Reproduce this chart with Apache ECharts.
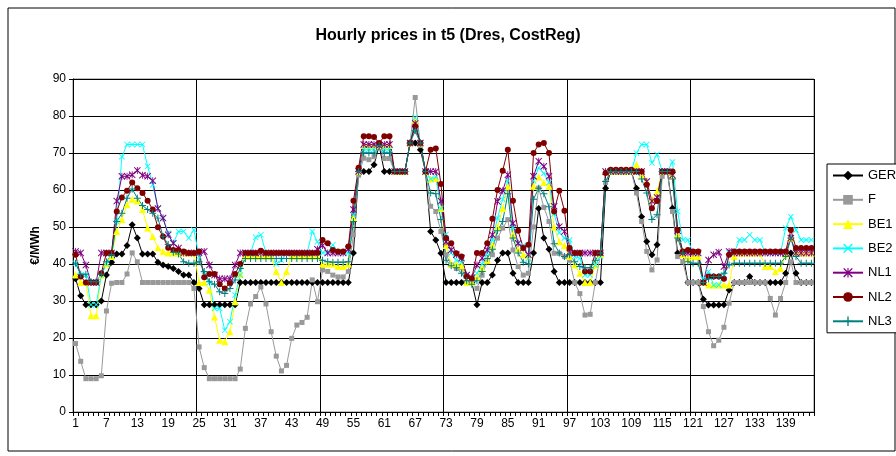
<!DOCTYPE html>
<html>
<head>
<meta charset="utf-8">
<title>Hourly prices in t5</title>
<script src="https://cdn.jsdelivr.net/npm/echarts@6/dist/echarts.min.js"></script>
<style>
  html, body { margin: 0; padding: 0; background: #fff; }
  #chart { width: 896px; height: 456px; }
</style>
</head>
<body>
<div id="chart"></div>
<script>
// hours 1..144 (6 days x 24 h)
var hours = [];
for (var h = 1; h <= 144; h++) hours.push(String(h));

var ger = [
  36, 31.4, 29, 29, 29, 30, 37, 40.5, 42.7, 42.7, 45, 50.6, 47, 42.7, 42.7, 42.7, 40.5, 39.7, 39.3, 38.8, 38, 37, 37, 35,
  33.4, 29, 29, 29, 29, 29, 29, 29, 35, 35, 35, 35, 35, 35, 35, 35, 35, 35, 35, 35, 35, 35, 35, 35,
  35, 35, 35, 35, 35, 35, 43, 65, 65, 65, 66.8, 72, 65, 65, 65, 65, 65, 72.7, 72.7, 70.9, 65, 48.8, 46.5, 42.9,
  35, 35, 35, 35, 35, 35, 29, 35, 35, 37, 41, 43, 43, 37.5, 35, 35, 35, 43, 55, 47, 44, 38, 35, 35,
  35, 35, 35, 35, 35, 35, 35, 60.5, 65, 65, 65, 65, 65, 60.5, 52.8, 46.1, 42.5, 45.2, 65, 65, 55.1, 43, 43, 35,
  35, 35, 30.5, 28.9, 28.9, 28.9, 29, 33, 35, 35, 35, 36.6, 35, 35, 35, 35, 35, 35, 37.5, 43, 37.5, 35, 35, 35
];
var fr = [
  18.5, 13.7, 9, 9, 9, 9.8, 27.3, 34.8, 35, 35, 37.3, 43, 40.6, 35, 35, 35, 35, 35, 35, 35, 35, 35, 35, 33.4,
  17.6, 12, 9, 9, 9, 9, 9, 9, 11.6, 22.6, 29.2, 31.2, 33.8, 29.2, 21.7, 15.1, 11.1, 12.6, 19.9, 23.5, 24.2, 25.6, 35.7, 29.8,
  38.4, 38, 37, 36.5, 36.5, 38, 47.9, 64, 68.6, 68.2, 69, 72, 68.5, 68.5, 65, 65, 65, 72.7, 85, 72, 65, 55.6, 54.2, 48.8,
  42.5, 39.7, 38.8, 39, 34.8, 34.8, 33.4, 37, 40.6, 42.5, 47, 49.7, 52, 43.8, 39.3, 37, 37.5, 50, 60.5, 55.3, 51.5, 42.9, 42.9, 42,
  41, 35, 32, 26.2, 26.4, 35, 42.5, 62, 65, 65, 65, 65, 65, 59.2, 51.5, 43.4, 38.4, 41.1, 63.7, 65, 54.2, 42, 40.6, 35,
  35, 35, 28.5, 21.7, 17.9, 19.4, 22.9, 29.4, 35, 35, 35, 35, 35, 35, 35, 30.7, 26.2, 30.7, 35, 40.6, 35, 35, 35, 35
];
var be1 = [
  37, 35, 35, 26, 26, 37, 40, 42, 48.8, 52, 56, 57.5, 57, 54.7, 49.7, 47.4, 44.4, 43.4, 43, 43, 43, 43, 43, 43,
  35, 35, 33, 25.7, 19.4, 19, 21.7, 29.8, 37.2, 42, 42, 42, 42, 42, 42, 38, 35, 38, 42, 42, 42, 42, 42, 42,
  40, 40, 40, 39.3, 39.3, 40, 52.4, 65, 72, 72, 72, 72, 72, 72, 65, 65, 65, 72.7, 79, 72.7, 65, 63, 63.2, 55,
  45, 40, 40, 39.5, 35, 35, 36.5, 39, 41, 45, 50, 55, 61, 48, 44, 42.5, 42.3, 61, 63.5, 62, 61, 50, 46, 45,
  42, 39.7, 37.5, 35, 35, 39.7, 42.5, 65, 65, 65, 65, 65, 65, 66.8, 64, 62.5, 57.4, 59.6, 65, 65, 64, 47.9, 42.5, 41.5,
  42, 42, 35, 34.3, 34.3, 34.3, 34.3, 34.3, 42, 43, 43, 43, 43, 43, 39.3, 39.3, 38, 38.8, 42.5, 47, 43, 43, 43, 43
];
var be2 = [
  40.2, 37, 37, 29, 29, 37, 40, 42.5, 51.5, 69, 72.3, 72.3, 72.3, 72.3, 66.4, 61.4, 55.1, 52.4, 48.3, 45.6, 48.8, 48.8, 47, 49.2,
  42, 37, 35, 28, 28, 22.1, 24.4, 31.6, 37, 43, 43, 47.2, 47.9, 43, 43, 40, 41, 43, 43, 43, 43, 43, 48.8, 46,
  43, 43, 45.2, 43, 43, 43, 53.3, 65, 71, 71, 71, 72, 71, 71, 65, 65, 65, 72.7, 79.5, 72.7, 65, 63, 63.5, 55,
  48, 43, 41, 40.5, 37, 36, 37.5, 40, 43, 46.5, 52.4, 57.5, 62.5, 50, 45.5, 45, 41.5, 62.5, 66, 64.5, 62, 53.5, 48.5, 47,
  46.5, 42, 41.5, 37, 37, 39.7, 42, 65, 65, 65, 65, 65, 65, 70, 72.3, 72.3, 67.3, 69.6, 65, 65, 67.6, 54.2, 46.5, 46.5,
  43, 43, 36, 38, 34.3, 34.3, 37, 43, 43, 46.5, 46.5, 47.9, 46.5, 46.5, 43, 43, 43, 43, 49.7, 52.8, 49.2, 46.5, 46.5, 46.5
];
var nl1 = [
  43.4, 43, 39.7, 35, 35, 43, 43, 43, 57, 63.7, 63.7, 64.1, 65.3, 64, 63.7, 62.5, 55, 52.4, 47.9, 45.6, 44.3, 43, 43, 43,
  43, 43.4, 39.7, 37, 36, 36, 36, 39.7, 43, 43, 43, 43, 43, 43, 43, 43, 43, 43, 43, 43, 43, 43, 43, 44,
  45, 43, 43, 43, 43, 44, 54.7, 65, 72.3, 72.3, 72.3, 72, 72.3, 72.3, 65, 65, 65, 72.7, 78, 72.7, 65, 65, 65, 57,
  46, 43.8, 42.5, 41.6, 37, 36.3, 39.7, 41.6, 43.8, 47.9, 56.9, 59.8, 64.1, 51, 45.6, 44.3, 42.5, 63.7, 67.8, 66.4, 63.7, 55.6, 50.1, 48.8,
  43, 43, 43, 43, 43, 43, 43, 65, 65, 65, 65, 65, 65, 65, 65, 62.3, 57, 58, 65, 65, 64, 49, 43, 43,
  43, 43, 35, 41.1, 42.5, 43.2, 39.3, 43.4, 43, 43, 43, 43, 43, 43, 43, 43, 43, 43, 43, 47, 43, 43, 43, 43
];
var nl2 = [
  42.5, 36.6, 35, 35, 35, 37.5, 43, 43, 54.2, 58, 59.8, 62, 60.5, 59.2, 57.1, 54.7, 49.9, 47.4, 44.4, 43.8, 43.8, 43.4, 43, 43,
  43.4, 36.4, 37.3, 37.3, 34.5, 33.4, 34.8, 37.3, 40, 43, 43, 43, 43.6, 43, 43, 43, 43, 43, 43, 43, 43, 43, 43, 43,
  46.5, 45.6, 43.8, 43.4, 43.4, 44.7, 57.1, 66, 74.5, 74.5, 74.3, 72.7, 74.5, 74.5, 65, 65, 65, 72.7, 77.2, 72.7, 65, 70.9, 71.2, 61.6,
  47, 45.6, 42.9, 42, 36.6, 36.1, 43, 43, 45.6, 52.2, 60, 65.2, 70.9, 57.1, 49, 44.3, 45.2, 70, 72.3, 72.7, 70, 54.2, 59.8, 54.4,
  44.3, 43, 43, 38, 38, 43, 43, 64.6, 65.5, 65.5, 65.5, 65.5, 65.5, 65, 65, 61.4, 55.1, 57, 65, 65, 65, 49.2, 43.4, 43.8,
  43.4, 43.4, 35, 36.6, 36.6, 36.6, 36, 42.5, 43.4, 43.4, 43.4, 43.4, 43.4, 43.4, 43.4, 43.4, 43.4, 43.4, 43.4, 49.2, 44.3, 44.3, 44.3, 44.3
];
var nl3 = [
  40.2, 37.2, 37.2, 35.2, 35.2, 37.2, 40.6, 42.5, 51.5, 53.7, 57.8, 60.3, 57.8, 55.8, 54.7, 53.7, 52.4, 47.4, 45.3, 43.2, 42.7, 40.6, 40.2, 40.2,
  40.6, 38, 35.2, 34.5, 32.5, 32, 33.4, 35.7, 38.8, 41.5, 41.5, 41.5, 41.5, 41.5, 41.5, 41.5, 41.5, 41.5, 41.5, 41.5, 41.5, 41.5, 41.5, 41.5,
  41, 40.6, 40.5, 40.5, 40.5, 40.6, 51.5, 65, 70, 70, 70, 72, 70, 70, 65, 65, 65, 72.7, 76, 72.7, 65, 59.2, 59, 52,
  41, 39.5, 39, 37.5, 35.5, 34.5, 35.5, 38, 41.5, 44, 49, 51.5, 59, 47, 43, 40.5, 40, 57.5, 60.5, 59, 55.5, 45.5, 43, 42,
  42.5, 40.6, 39.3, 39, 39, 41, 43, 62.3, 65, 65, 65, 65, 65, 65, 63, 59.2, 52, 53.3, 65, 65, 63, 47, 43, 40.6,
  40.2, 40.2, 35, 36, 36.6, 36.6, 37.5, 39.7, 40.2, 40.2, 40.2, 40.2, 40.2, 40.2, 40.2, 40.2, 40.2, 40.2, 42, 47, 42, 40.2, 40.2, 40.2
];

// excel style markers
var xMark = 'path://M0,1L1,0L5,4L9,0L10,1L6,5L10,9L9,10L5,6L1,10L0,9L4,5Z';
var starMark = 'path://M0,1L1,0L4.4,3.4L4.4,0L5.6,0L5.6,3.4L9,0L10,1L6,5L10,9L9,10L5.6,6.6L5.6,10L4.4,10L4.4,6.6L1,10L0,9L4,5Z';
var plusMark = 'path://M4.3,0L5.7,0L5.7,4.3L10,4.3L10,5.7L5.7,5.7L5.7,10L4.3,10L4.3,5.7L0,5.7L0,4.3L4.3,4.3Z';

function line(name, data, color, symbol, size) {
  return {
    name: name,
    type: 'line',
    data: data,
    symbol: symbol,
    symbolSize: size,
    showSymbol: true,
    showAllSymbol: true,
    lineStyle: { color: color, width: 1 },
    itemStyle: { color: color },
    emphasis: { disabled: true }
  };
}

var chart = echarts.init(document.getElementById('chart'));
var option = {
  animation: false,
  backgroundColor: '#fff',
  textStyle: { fontFamily: 'Liberation Sans, Arial, sans-serif', color: '#000' },
  title: {
    text: 'Hourly prices in t5 (Dres, CostReg)',
    left: 'center',
    top: 23,
    textStyle: { fontSize: 16, fontWeight: 'bold', color: '#000', fontFamily: 'Liberation Sans, Arial, sans-serif' }
  },
  graphic: [{
    type: 'rect',
    shape: { x: 8, y: 8, width: 887, height: 443 },
    style: { fill: 'none', stroke: '#000', lineWidth: 1 },
    silent: true
  }],
  legend: {
    orient: 'vertical',
    left: 827,
    top: 164,
    padding: [5, 40, 5, 5],
    itemWidth: 30,
    itemHeight: 12,
    itemGap: 11.3,
    borderColor: '#000',
    borderWidth: 1,
    backgroundColor: '#fff',
    textStyle: { fontSize: 13, color: '#000' },
    data: ['GER', 'F', 'BE1', 'BE2', 'NL1', 'NL2', 'NL3']
  },
  grid: {
    left: 73,
    right: 82,
    top: 79,
    bottom: 44,
    show: true,
    borderColor: '#808080',
    borderWidth: 1,
    backgroundColor: '#fff'
  },
  xAxis: {
    type: 'category',
    data: hours,
    boundaryGap: true,
    axisLine: { lineStyle: { color: '#000', width: 1 } },
    axisTick: { show: true, interval: 0, length: 4, lineStyle: { color: '#000' } },
    axisLabel: { interval: 5, fontSize: 12, color: '#000', margin: 6 },
    splitLine: {
      show: true,
      interval: function (index) { return index % 24 === 0 && index > 0; },
      lineStyle: { color: '#000', width: 1 }
    }
  },
  yAxis: {
    type: 'value',
    min: 0,
    max: 90,
    interval: 10,
    name: '€/MWh',
    nameLocation: 'middle',
    nameRotate: 90,
    nameGap: 27,
    nameTextStyle: { fontSize: 12, fontWeight: 'bold', color: '#000' },
    axisLine: { show: true, lineStyle: { color: '#000', width: 1 } },
    axisTick: { show: true, length: 4, lineStyle: { color: '#000' } },
    axisLabel: { fontSize: 12, color: '#000', margin: 7 },
    splitLine: { show: true, lineStyle: { color: '#000', width: 1 } }
  },
  series: [
    line('GER', ger, '#000000', 'diamond', 7),
    line('F', fr, '#999999', 'rect', 5),
    line('BE1', be1, '#ffff00', 'triangle', 7),
    line('BE2', be2, '#00ffff', xMark, 6),
    line('NL1', nl1, '#800080', starMark, 7),
    line('NL2', nl2, '#800000', 'circle', 6),
    line('NL3', nl3, '#008080', plusMark, 7)
  ]
};
chart.setOption(option);
</script>
</body>
</html>
